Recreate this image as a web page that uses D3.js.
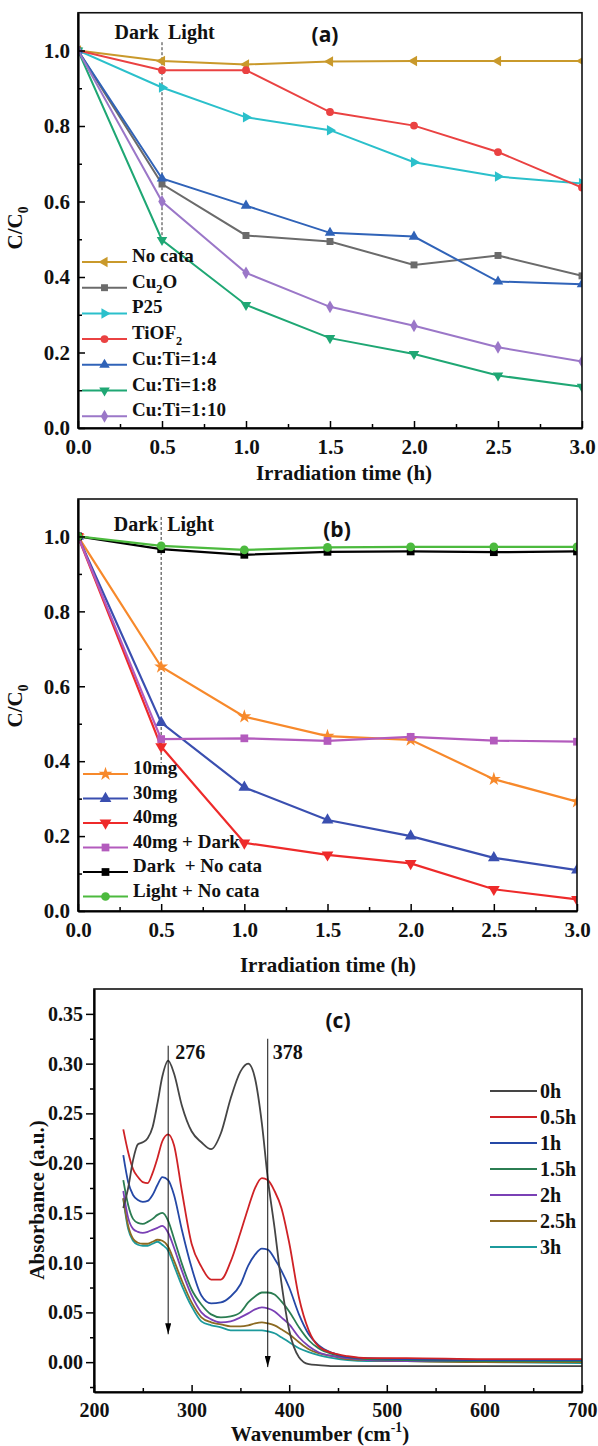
<!DOCTYPE html>
<html>
<head>
<meta charset="utf-8">
<script src="https://cdn.jsdelivr.net/npm/d3@7"></script>
<style>
  body { margin: 0; background: #fff; }
  #wrapper svg { display: block; }
</style>
</head>
<body>
<div id="wrapper"></div>
<script>
// ---- data ----
const times = [0, 0.5, 1, 1.5, 2, 2.5, 3];

// panel (a)
const noCata  = [1.0, 0.972, 0.963, 0.971, 0.972, 0.972, 0.972];
const cu2o    = [1.0, 0.646, 0.510, 0.494, 0.432, 0.457, 0.403];
const p25     = [1.0, 0.902, 0.823, 0.789, 0.704, 0.666, 0.648];
const tiof2   = [1.0, 0.948, 0.948, 0.837, 0.801, 0.731, 0.637];
const cuTi14  = [1.0, 0.661, 0.589, 0.517, 0.507, 0.388, 0.381];
const cuTi18  = [1.0, 0.498, 0.326, 0.238, 0.196, 0.139, 0.109];
const cuTi110 = [1.0, 0.600, 0.411, 0.321, 0.271, 0.214, 0.176];
const namesA = ["No cata", "Cu_2O", "P25", "TiOF_2", "Cu:Ti=1:4", "Cu:Ti=1:8", "Cu:Ti=1:10"];

// panel (b)
const mg10        = [1.0, 0.652, 0.519, 0.467, 0.457, 0.352, 0.292];
const mg30        = [1.0, 0.503, 0.330, 0.243, 0.200, 0.142, 0.109];
const mg40        = [1.0, 0.439, 0.182, 0.150, 0.127, 0.058, 0.031];
const mg40Dark    = [1.0, 0.459, 0.461, 0.454, 0.465, 0.455, 0.452];
const darkNoCata  = [1.0, 0.966, 0.951, 0.959, 0.960, 0.958, 0.960];
const lightNoCata = [1.0, 0.975, 0.964, 0.971, 0.972, 0.972, 0.972];
const namesB = ["10mg", "30mg", "40mg", "40mg + Dark", "Dark  + No cata", "Light + No cata"];

// panel (c) spectra
const wavenumbers = [230, 235, 240, 245, 250, 255, 260, 265, 270, 276, 282, 290, 300, 310, 320, 330, 340,
  350, 358, 365, 372, 378, 385, 392, 400, 410, 420, 430, 445, 460, 480, 520, 600, 700];
const abs0h  = [0.155, 0.175, 0.203, 0.219, 0.221, 0.225, 0.236, 0.260, 0.287, 0.303, 0.290, 0.258, 0.232, 0.221, 0.214, 0.230, 0.265,
  0.292, 0.300, 0.285, 0.240, 0.185, 0.135, 0.080, 0.032, 0.005, -0.002, -0.003, -0.004, -0.004, -0.004, -0.004, -0.004, -0.004];
const abs05h = [0.234, 0.211, 0.194, 0.186, 0.181, 0.180, 0.190, 0.205, 0.222, 0.229, 0.218, 0.172, 0.119, 0.096, 0.083, 0.083, 0.101,
  0.130, 0.155, 0.175, 0.185, 0.183, 0.172, 0.155, 0.120, 0.065, 0.032, 0.016, 0.009, 0.006, 0.004, 0.004, 0.003, 0.003];
const abs1h  = [0.208, 0.181, 0.168, 0.163, 0.161, 0.162, 0.168, 0.178, 0.186, 0.183, 0.168, 0.133, 0.095, 0.067, 0.059, 0.060, 0.066,
  0.078, 0.097, 0.108, 0.114, 0.113, 0.104, 0.092, 0.075, 0.048, 0.028, 0.017, 0.009, 0.005, 0.004, 0.003, 0.002, 0.002];
const abs15h = [0.183, 0.158, 0.144, 0.140, 0.139, 0.141, 0.144, 0.148, 0.150, 0.142, 0.124, 0.099, 0.073, 0.058, 0.048, 0.045, 0.046,
  0.050, 0.060, 0.066, 0.070, 0.070, 0.068, 0.061, 0.051, 0.035, 0.022, 0.014, 0.008, 0.005, 0.003, 0.002, 0.001, 0.001];
const abs2h  = [0.172, 0.145, 0.134, 0.131, 0.130, 0.131, 0.133, 0.135, 0.137, 0.130, 0.115, 0.092, 0.067, 0.050, 0.043, 0.040, 0.041,
  0.045, 0.049, 0.053, 0.055, 0.054, 0.051, 0.045, 0.038, 0.025, 0.016, 0.010, 0.006, 0.004, 0.002, 0.001, 0.001, 0.001];
const abs25h = [0.165, 0.137, 0.124, 0.120, 0.119, 0.119, 0.121, 0.123, 0.122, 0.116, 0.102, 0.082, 0.060, 0.045, 0.040, 0.038, 0.036,
  0.036, 0.037, 0.039, 0.040, 0.039, 0.037, 0.033, 0.028, 0.020, 0.013, 0.009, 0.006, 0.003, 0.002, 0.001, 0.000, 0.000];
const abs3h  = [0.164, 0.134, 0.122, 0.118, 0.117, 0.117, 0.119, 0.121, 0.118, 0.112, 0.097, 0.077, 0.056, 0.041, 0.037, 0.035, 0.032,
  0.032, 0.032, 0.032, 0.032, 0.031, 0.029, 0.025, 0.020, 0.014, 0.010, 0.007, 0.004, 0.002, 0.001, 0.001, 0.000, -0.001];
const namesC = ["0h", "0.5h", "1h", "1.5h", "2h", "2.5h", "3h"];
const peaks = [276, 378];

// ticks
const xTicksAB = [0, 0.5, 1, 1.5, 2, 2.5, 3];
const xMinorAB = [0.25, 0.75, 1.25, 1.75, 2.25, 2.75];
const yTicksAB = [0, 0.2, 0.4, 0.6, 0.8, 1.0];
const yMinorAB = [0.1, 0.3, 0.5, 0.7, 0.9];
const xTicksC = [200, 300, 400, 500, 600, 700];
const xMinorC = [250, 350, 450, 550, 650];
const yTicksC = [0, 0.05, 0.1, 0.15, 0.2, 0.25, 0.3, 0.35];
const yMinorC = [-0.025, 0.025, 0.075, 0.125, 0.175, 0.225, 0.275, 0.325];

// ---- styles ----
const colorsA = ["#c9992b", "#6b6b6b", "#2bc0cb", "#ea4242", "#3063b8", "#1fa774", "#9b77c8"];
const symbolsA = ["left", "square", "right", "circle", "up", "down", "diamond"];
const colorsB = ["#f7892b", "#3a4fb0", "#ee2a2a", "#b35bbd", "#000000", "#4cba3e"];
const symbolsB = ["star", "up", "down", "square", "square", "circle"];
const colorsC = ["#454545", "#cf2226", "#2548a6", "#2b7d52", "#7a40b5", "#8c6a22", "#1c9a9c"];

const serif = "'Liberation Serif', 'Times New Roman', serif";
const sans = "'Open Sans', 'Liberation Sans', sans-serif";

const symbolDefs = {
  left: [d3.symbolTriangle, -90],
  right: [d3.symbolTriangle, 90],
  up: [d3.symbolTriangle, 0],
  down: [d3.symbolTriangle, 180],
  circle: [d3.symbolCircle, 0],
  square: [d3.symbolSquare, 0],
  diamond: [d3.symbolDiamond, 0],
  star: [d3.symbolStar, 0]
};

const svg = d3.select("#wrapper")
  .append("svg")
  .attr("width", 598)
  .attr("height", 1446);

svg.append("defs").append("marker")
  .attr("id", "arrow")
  .attr("viewBox", "0 0 10 10")
  .attr("refX", 10)
  .attr("refY", 5)
  .attr("markerWidth", 11)
  .attr("markerHeight", 6)
  .attr("markerUnits", "userSpaceOnUse")
  .attr("preserveAspectRatio", "none")
  .attr("orient", "auto")
  .append("path")
  .attr("d", "M0,0 L10,5 L0,10 z")
  .attr("fill", "#000");

// text with "_2" subscripts and "^-1" superscripts
function richText(sel, str, fs) {
  const parts = str.split(/(_\d|\^-?\d)/).filter(s => s.length);
  let shift = 0;
  parts.forEach(p => {
    if (p[0] === "_" || p[0] === "^") {
      const d = p[0] === "_" ? 0.3 * fs : -0.42 * fs;
      sel.append("tspan").attr("dy", d).attr("font-size", fs * 0.65).text(p.slice(1));
      shift = -d;
    } else {
      sel.append("tspan").attr("dy", shift).text(p);
      shift = 0;
    }
  });
}

function setupPanel(id, box, xDomain, yDomain) {
  const x = d3.scaleLinear().domain(xDomain).range([box.left, box.right]);
  const y = d3.scaleLinear().domain(yDomain).range([box.bottom, box.top]);
  const g = svg.append("g").attr("id", id);
  g.append("clipPath").attr("id", id + "-clip")
    .append("rect")
    .attr("x", box.left)
    .attr("y", box.top)
    .attr("width", box.right - box.left)
    .attr("height", box.bottom - box.top);
  const plot = g.append("g").attr("clip-path", `url(#${id}-clip)`);
  return { x, y, g, plot, box };
}

function drawAxes(p, ax) {
  const { g, box } = p;
  const tickText = sel => sel
    .attr("font-family", serif)
    .attr("font-size", ax.fontSize)
    .attr("font-weight", "bold")
    .call(s => s.selectAll("line").attr("stroke-width", 1.5))
    .call(s => s.selectAll("text").attr("fill", "#111"));

  g.append("g")
    .attr("transform", `translate(0,${box.bottom})`)
    .call(d3.axisBottom(p.x).tickValues(ax.xMinor).tickFormat("").tickSize(-4).tickSizeOuter(0))
    .call(s => s.select(".domain").remove())
    .call(s => s.selectAll("line").attr("stroke-width", 1.5));
  g.append("g")
    .attr("transform", `translate(${box.left},0)`)
    .call(d3.axisLeft(p.y).tickValues(ax.yMinor).tickFormat("").tickSize(ax.yIn ? -4 : 4).tickSizeOuter(0))
    .call(s => s.select(".domain").remove())
    .call(s => s.selectAll("line").attr("stroke-width", 1.5));

  g.append("rect")
    .attr("x", box.left)
    .attr("y", box.top)
    .attr("width", box.right - box.left)
    .attr("height", box.bottom - box.top)
    .attr("fill", "none")
    .attr("stroke", "#111")
    .attr("stroke-width", 1.6);

  g.append("g")
    .attr("transform", `translate(0,${box.bottom})`)
    .call(d3.axisBottom(p.x).tickValues(ax.xTicks).tickFormat(ax.xFmt)
      .tickSize(-7).tickSizeOuter(0).tickPadding(11))
    .call(tickText)
    .call(s => s.select(".domain").attr("stroke-width", 2.2));
  g.append("g")
    .attr("transform", `translate(${box.left},0)`)
    .call(d3.axisLeft(p.y).tickValues(ax.yTicks).tickFormat(ax.yFmt)
      .tickSize(ax.yIn ? -7 : 8).tickSizeOuter(0).tickPadding(ax.yIn ? 8 : 3))
    .call(tickText)
    .call(s => s.select(".domain").attr("stroke-width", 2.2));
}

function symbolPath(name, size) {
  const [type] = symbolDefs[name];
  return d3.symbol().type(type).size(size)();
}

function drawSeriesPanel(p, names, values, colors, symbols, opt) {
  const line = d3.line()
    .x((d, i) => p.x(times[i]))
    .y(d => p.y(d));

  // dashed dark/light divider
  p.plot.append("line")
    .attr("x1", p.x(0.5)).attr("x2", p.x(0.5))
    .attr("y1", p.y(opt.divider[0])).attr("y2", p.y(opt.divider[1]))
    .attr("stroke", "#333")
    .attr("stroke-width", 1)
    .attr("stroke-dasharray", "3,2");

  const series = p.plot.selectAll(".series")
    .data(values)
    .join("g")
    .attr("class", "series");

  series.append("path")
    .attr("d", line)
    .attr("fill", "none")
    .attr("stroke", (d, i) => colors[i])
    .attr("stroke-width", opt.lineWidth);

  series.each(function (vals, si) {
    d3.select(this).selectAll("path.mark")
      .data(vals)
      .join("path")
      .attr("class", "mark")
      .attr("d", symbolPath(symbols[si], opt.markSize))
      .attr("transform", (d, i) =>
        `translate(${p.x(times[i])},${p.y(d)}) rotate(${symbolDefs[symbols[si]][1]})`)
      .attr("fill", colors[si]);
  });

  // legend
  const legend = p.g.append("g");
  names.forEach((name, i) => {
    const ly = opt.legend.y + i * opt.legend.dy;
    const lx = opt.legend.x;
    legend.append("line")
      .attr("x1", lx).attr("x2", lx + 45)
      .attr("y1", ly).attr("y2", ly)
      .attr("stroke", colors[i])
      .attr("stroke-width", opt.lineWidth);
    legend.append("path")
      .attr("d", symbolPath(symbols[i], opt.markSize))
      .attr("transform", `translate(${lx + 22.5},${ly}) rotate(${symbolDefs[symbols[i]][1]})`)
      .attr("fill", colors[i]);
    const t = legend.append("text")
      .attr("x", lx + 50)
      .attr("y", ly)
      .attr("dy", "0.35em")
      .attr("font-family", serif)
      .attr("font-weight", "bold")
      .attr("font-size", 19)
      .attr("fill", "#111")
      .style("white-space", "pre");
    richText(t, name, 19);
  });

  // Dark / Light
  p.g.append("text")
    .attr("x", p.x(0.5) - 3)
    .attr("y", opt.darkY)
    .attr("text-anchor", "end")
    .attr("font-family", serif).attr("font-weight", "bold").attr("font-size", 20)
    .attr("fill", "#111")
    .text("Dark");
  p.g.append("text")
    .attr("x", p.x(0.5) + 6)
    .attr("y", opt.darkY)
    .attr("font-family", serif).attr("font-weight", "bold").attr("font-size", 20)
    .attr("fill", "#111")
    .text("Light");

  // panel tag
  p.g.append("text")
    .attr("x", opt.tag[0])
    .attr("y", opt.tag[1])
    .attr("dy", "0.35em")
    .attr("text-anchor", "middle")
    .attr("font-family", sans).attr("font-weight", "bold").attr("font-size", 21)
    .attr("fill", "#111")
    .text(opt.tagText);

  // axis titles
  p.g.append("text")
    .attr("x", opt.xTitle[0])
    .attr("y", opt.xTitle[1])
    .attr("text-anchor", "middle")
    .attr("font-family", serif).attr("font-weight", "bold").attr("font-size", 21)
    .attr("fill", "#111")
    .text("Irradiation time (h)");
  const yt = p.g.append("text")
    .attr("transform", `translate(${opt.yTitle[0]},${opt.yTitle[1]}) rotate(-90)`)
    .attr("dy", "0.35em")
    .attr("text-anchor", "middle")
    .attr("font-family", serif).attr("font-weight", "bold").attr("font-size", 21)
    .attr("fill", "#111");
  richText(yt, "C/C_0", 21);
}

const fmt1 = d3.format(".1f");
const fmt2 = d3.format(".2f");

// ---- panel (a) ----
const pa = setupPanel("pa", { left: 78, right: 582, top: 12.75, bottom: 428 }, [0, 3], [0, 1.1]);
drawSeriesPanel(pa, namesA,
  [noCata, cu2o, p25, tiof2, cuTi14, cuTi18, cuTi110],
  colorsA, symbolsA, {
    lineWidth: 2, markSize: 48,
    divider: [1.022, 0.49],
    legend: { x: 82, y: 262, dy: 25.7 },
    darkY: 39, tag: [325, 35], tagText: "(a)",
    xTitle: [344, 480], yTitle: [22, 228]
  });
drawAxes(pa, { xTicks: xTicksAB, xMinor: xMinorAB, yTicks: yTicksAB, yMinor: yMinorAB,
  xFmt: fmt1, yFmt: fmt1, yIn: true, fontSize: 21 });

// ---- panel (b) ----
const pb = setupPanel("pb", { left: 78, right: 577, top: 499, bottom: 911 }, [0, 3], [0, 1.1]);
drawSeriesPanel(pb, namesB,
  [mg10, mg30, mg40, mg40Dark, darkNoCata, lightNoCata],
  colorsB, symbolsB, {
    lineWidth: 2.2, markSize: 60,
    divider: [1.052, 0.395],
    legend: { x: 83, y: 774, dy: 24.5 },
    darkY: 531, tag: [337, 530], tagText: "(b)",
    xTitle: [328, 972], yTitle: [22, 706]
  });
drawAxes(pb, { xTicks: xTicksAB, xMinor: xMinorAB, yTicks: yTicksAB, yMinor: yMinorAB,
  xFmt: fmt1, yFmt: fmt1, yIn: true, fontSize: 21 });

// ---- panel (c) ----
const pc = setupPanel("pc", { left: 94, right: 582, top: 989, bottom: 1392 }, [200, 700], [-0.03, 0.375]);
const spectra = [abs0h, abs05h, abs1h, abs15h, abs2h, abs25h, abs3h];
const specLine = d3.line()
  .x((d, i) => pc.x(wavenumbers[i]))
  .y(d => pc.y(d))
  .curve(d3.curveMonotoneX);

pc.plot.selectAll(".spec")
  .data(spectra.slice().reverse())
  .join("path")
  .attr("class", "spec")
  .attr("d", specLine)
  .attr("fill", "none")
  .attr("stroke", (d, i) => colorsC[spectra.length - 1 - i])
  .attr("stroke-width", 1.8);

// peak markers with arrows
const arrowTop = [0.318, 0.325];
const arrowEnd = [0.028, -0.005];
peaks.forEach((wn, i) => {
  pc.plot.append("line")
    .attr("x1", pc.x(wn)).attr("x2", pc.x(wn))
    .attr("y1", pc.y(arrowTop[i])).attr("y2", pc.y(arrowEnd[i]))
    .attr("stroke", "#111")
    .attr("stroke-width", 1)
    .attr("marker-end", "url(#arrow)");
  pc.g.append("text")
    .attr("x", pc.x(wn) + (i === 0 ? 7 : 5))
    .attr("y", 1059)
    .attr("font-family", serif).attr("font-weight", "bold").attr("font-size", 20)
    .attr("fill", "#111")
    .text(wn);
});

drawAxes(pc, { xTicks: xTicksC, xMinor: xMinorC, yTicks: yTicksC, yMinor: yMinorC,
  xFmt: d3.format("d"), yFmt: fmt2, yIn: false, fontSize: 20 });

// legend (c)
namesC.forEach((name, i) => {
  const ly = 1091 + i * 26;
  pc.g.append("line")
    .attr("x1", 490).attr("x2", 537)
    .attr("y1", ly).attr("y2", ly)
    .attr("stroke", colorsC[i])
    .attr("stroke-width", 2);
  pc.g.append("text")
    .attr("x", 540)
    .attr("y", ly)
    .attr("dy", "0.35em")
    .attr("font-family", serif).attr("font-weight", "bold").attr("font-size", 20)
    .attr("fill", "#111")
    .text(name);
});

pc.g.append("text")
  .attr("x", 338).attr("y", 1021).attr("dy", "0.35em")
  .attr("text-anchor", "middle")
  .attr("font-family", sans).attr("font-weight", "bold").attr("font-size", 21)
  .attr("fill", "#111")
  .text("(c)");

const xtC = pc.g.append("text")
  .attr("x", 320).attr("y", 1441)
  .attr("text-anchor", "middle")
  .attr("font-family", serif).attr("font-weight", "bold").attr("font-size", 21)
  .attr("fill", "#111");
richText(xtC, "Wavenumber (cm^-1)", 21);

pc.g.append("text")
  .attr("transform", "translate(37,1200) rotate(-90)")
  .attr("dy", "0.35em")
  .attr("text-anchor", "middle")
  .attr("font-family", serif).attr("font-weight", "bold").attr("font-size", 21)
  .attr("fill", "#111")
  .text("Absorbance (a.u.)");
</script>
</body>
</html>
